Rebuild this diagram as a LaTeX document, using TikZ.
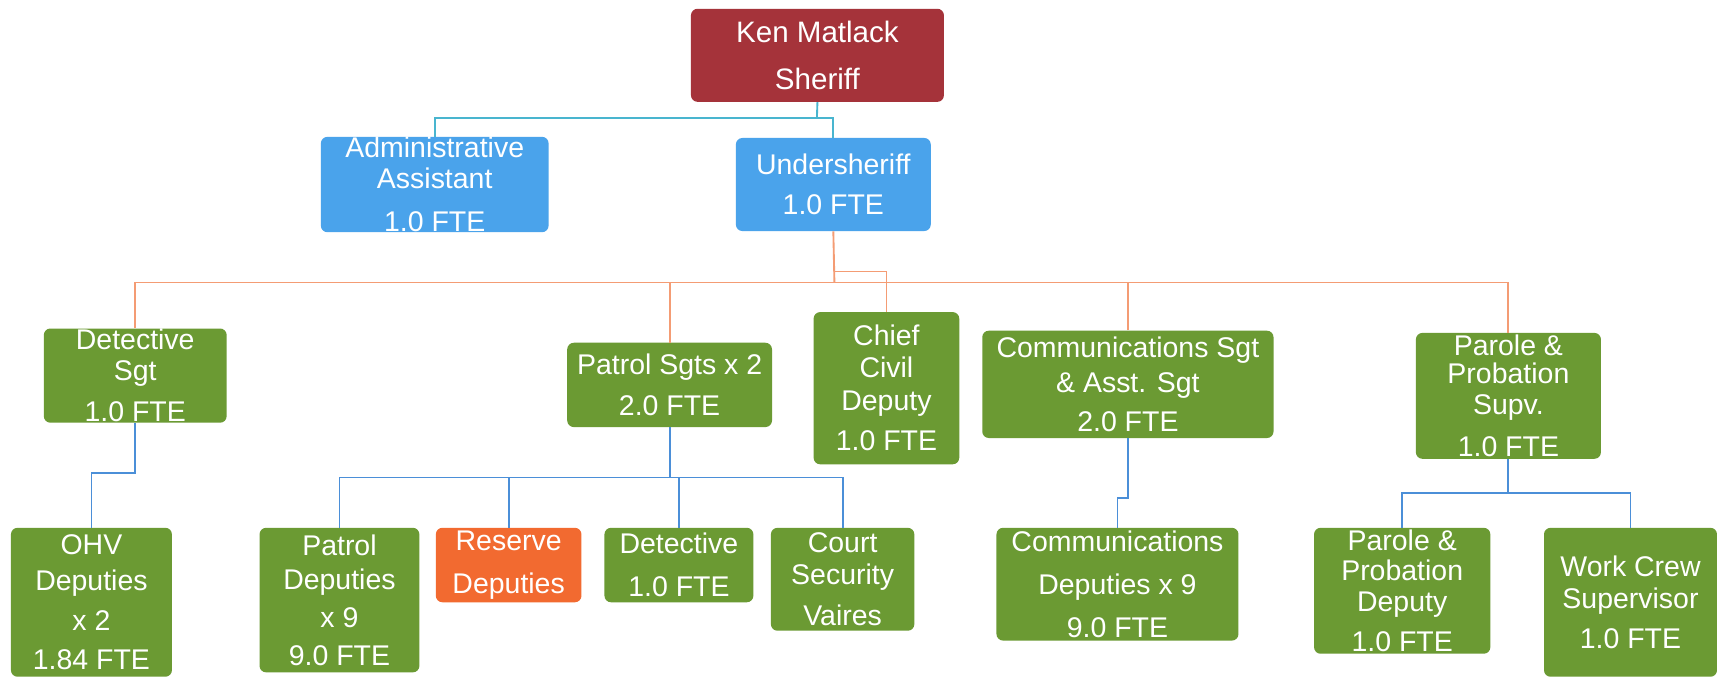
\documentclass[tikz,border=0pt]{standalone}
\usepackage{fontspec}
\setmainfont{Liberation Sans}
\definecolor{sherred}{HTML}{A5333A}
\definecolor{boxblue}{HTML}{4AA3EB}
\definecolor{boxgreen}{HTML}{6B9A33}
\definecolor{boxorange}{HTML}{F26A30}
\definecolor{lineteal}{HTML}{49B5CF}
\definecolor{lineorange}{HTML}{F49C74}
\definecolor{lineblue}{HTML}{4B8FD8}
\tikzset{
  orgbox/.style={rectangle, rounded corners=6pt, text=white, align=center, inner sep=0pt,
    font=\fontsize{26}{29}\selectfont},
  redbox/.style={orgbox, fill=sherred},
  bluebox/.style={orgbox, fill=boxblue},
  greenbox/.style={orgbox, fill=boxgreen},
  orangebox/.style={orgbox, fill=boxorange},
  tealconn/.style={draw=lineteal, line width=1.7pt},
  orangeconn/.style={draw=lineorange, line width=1.7pt},
  blueconn/.style={draw=lineblue, line width=1.7pt},
}
\newcommand{\orgnode}[7]{% style, name, x1, x2, y1, y2, text
  \node[#1, minimum width={#4-#3}, minimum height={#6-#5}] (#2) at ({(#3+#4)/2},{(#5+#6)/2}) {#7};}
\begin{document}
\begin{tikzpicture}[x=1pt,y=-1pt]
\useasboundingbox (0,0) rectangle (1568,618);
\fill[white] (0,0) rectangle (1568,618);
\coordinate (j1) at (746,108);
\coordinate (j2) at (762,258);
\coordinate (j3) at (762,248);
\coordinate (k1) at (123.5,432);
\coordinate (k2) at (611.5,436);
\coordinate (k3) at (1030,455);
\coordinate (k4) at (1377.5,450);
% boxes
\orgnode{redbox}{sheriff}{631}{862}{8}{93}{\fontsize{27}{29}\selectfont Ken Matlack\\[14pt]\fontsize{27}{29}\selectfont Sheriff}
\orgnode{bluebox}{admin}{293}{501}{126}{211}{Administrative\\[-1pt]Assistant\\[11pt]1.0 FTE}
\orgnode{bluebox}{under}{672}{850}{126}{211}{Undersheriff\\[8pt]1.0 FTE}
\orgnode{greenbox}{detsgt}{40}{207}{300}{386}{Detective\\[-1pt]Sgt\\[9pt]1.0 FTE}
\orgnode{greenbox}{patsgt}{518}{705}{313}{390}{Patrol Sgts x 2\\[8pt]2.0 FTE}
\orgnode{greenbox}{chief}{743}{876}{285}{424}{Chief\\Civil\\[1pt]Deputy\\[8pt]1.0 FTE}
\orgnode{greenbox}{commsgt}{897}{1163}{302}{400}{Communications Sgt\\[3pt]\& Asst. Sgt\\[7pt]2.0 FTE}
\orgnode{greenbox}{parole}{1293}{1462}{304}{419}{Parole \&\\[-3pt]Probation\\[-1pt]Supv.\\[10pt]1.0 FTE}
\orgnode{greenbox}{ohv}{10}{157}{482}{618}{OHV\\[4pt]Deputies\\[7pt]x 2\\[7pt]1.84 FTE}
\orgnode{greenbox}{patdep}{237}{383}{482}{614}{Patrol\\[2pt]Deputies\\[6pt]x 9\\[5pt]9.0 FTE}
\orgnode{orangebox}{reserve}{398}{531}{482}{550}{Reserve\\[10pt]Deputies}
\orgnode{greenbox}{det}{552}{688}{482}{550}{Detective\\[10pt]1.0 FTE}
\orgnode{greenbox}{court}{704}{835}{482}{576}{Court\\Security\\[9pt]Vaires}
\orgnode{greenbox}{commdep}{910}{1131}{482}{585}{Communications\\[10pt]Deputies x 9\\[10pt]9.0 FTE}
\orgnode{greenbox}{paroledep}{1200}{1361}{482}{597}{Parole \&\\[-2pt]Probation\\Deputy\\[7pt]1.0 FTE}
\orgnode{greenbox}{workcrew}{1410}{1568}{482}{618}{Work Crew\\Supervisor\\[8pt]1.0 FTE}
% level 1 -> 2
\draw[tealconn] (sheriff.south) -- (j1);
\draw[tealconn] (admin.north) |- (j1) -| (under.north);
% level 2 -> 3
\draw[orangeconn] (under.south) -- (j2);
\draw[orangeconn] (detsgt.north) |- (j2) -| (parole.north);
\draw[orangeconn] (patsgt.north) -- (patsgt.north |- j2);
\draw[orangeconn] (commsgt.north) -- (commsgt.north |- j2);
\draw[orangeconn] (j3) -| (chief.north);
% level 3 -> 4
\draw[blueconn] (detsgt.south) -- (k1) -| (ohv.north);
\draw[blueconn] (patsgt.south) -- (k2);
\draw[blueconn] (patdep.north) |- (k2) -| (court.north);
\draw[blueconn] (reserve.north) -- (reserve.north |- k2);
\draw[blueconn] (det.north) -- (det.north |- k2);
\draw[blueconn] (commsgt.south) -- (k3) -| (commdep.north);
\draw[blueconn] (parole.south) -- (k4);
\draw[blueconn] (paroledep.north) |- (k4) -| (workcrew.north);
\end{tikzpicture}
\end{document}
